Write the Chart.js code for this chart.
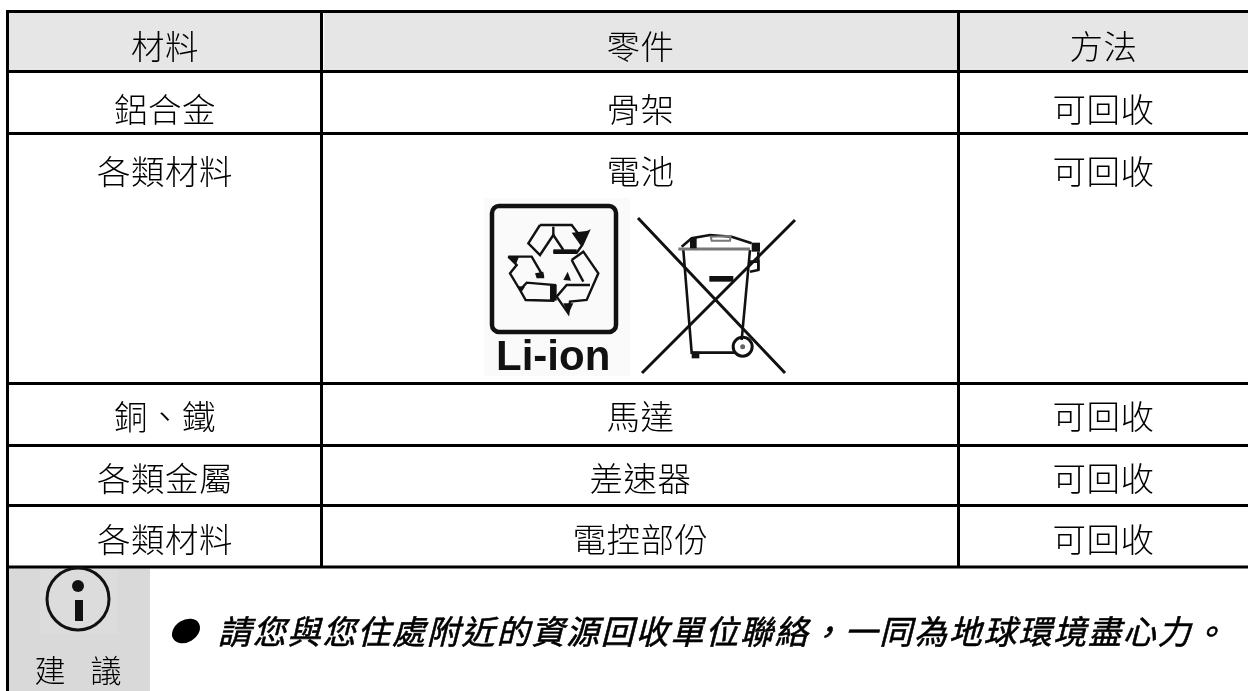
<!DOCTYPE html>
<html>
<head>
<meta charset="utf-8">
<script src="https://cdn.jsdelivr.net/npm/chart.js@4/dist/chart.umd.min.js"></script>
<style>
body { margin: 0; background: #fff; }
canvas { display: block; }
</style>
</head>
<body>
<canvas id="tableChart" width="1248" height="691"></canvas>
<script>
const headers = ['材料', '零件', '方法'];
const materials = ['鋁合金', '各類材料', '銅、鐵', '各類金屬', '各類材料'];
const parts = ['骨架', '電池', '馬達', '差速器', '電控部份'];
const methods = ['可回收', '可回收', '可回收', '可回收', '可回收'];
const adviceLabel = ['建', '議'];
const adviceText = '請您與您住處附近的資源回收單位聯絡，一同為地球環境盡心力。';
const batteryLabel = 'Li-ion';

// table layout, in the units of the x and y scales
const colEdges = [7.5, 321.5, 958.5, 1248];
const rowEdges = [11.5, 71.5, 133.5, 383.5, 445.5, 505.5, 567];
const textY = [46, 109, 171, 416, 478, 539];
const colX = [165, 640.5, 1103.5];

const CJK = '"Noto Sans CJK TC", "Noto Sans CJK JP", sans-serif';

function borderSet(points) {
	return {
		data: points,
		showLine: true,
		borderColor: '#000',
		borderWidth: 3,
		pointRadius: 0,
		borderCapStyle: 'butt',
		tension: 0,
		clip: false
	};
}

function tableBorders() {
	let sets = [];
	rowEdges.forEach((y) => {
		sets.push(borderSet([{x: colEdges[0] - 1.5, y: y}, {x: colEdges[3], y: y}]));
	});
	// left edge runs on through the advice row
	sets.push(borderSet([{x: colEdges[0], y: rowEdges[0]}, {x: colEdges[0], y: 691}]));
	sets.push(borderSet([{x: colEdges[1], y: rowEdges[0]}, {x: colEdges[1], y: rowEdges[6]}]));
	sets.push(borderSet([{x: colEdges[2], y: rowEdges[0]}, {x: colEdges[2], y: rowEdges[6]}]));
	return sets;
}

function trace(ctx, ox, oy, pts, close) {
	ctx.beginPath();
	pts.forEach((p, i) => {
		if (i == 0) ctx.moveTo(ox + p[0] / 3, oy + p[1] / 3); else ctx.lineTo(ox + p[0] / 3, oy + p[1] / 3);
	});
	if (close) ctx.closePath();
}

function drawRecycleIcon(ctx) {
	ctx.save();
	ctx.fillStyle = '#fafafa';
	ctx.fillRect(484, 198, 146, 178);
	ctx.filter = 'blur(0.7px)';
	ctx.strokeStyle = '#111';
	ctx.lineWidth = 4.5;
	ctx.beginPath();
	ctx.roundRect(492, 206, 124, 126, 7);
	ctx.stroke();

	const ox = 495, oy = 210;
	const lines = [
		[[135, 45], [230, 45], [255, 78], [280, 65], [262, 105], [245, 128], [175, 125]],
		[[135, 45], [100, 100], [135, 135], [175, 75], [205, 120]],
		[[175, 50], [175, 75]],
		[[40, 140], [110, 140], [145, 200]],
		[[40, 140], [65, 165], [45, 190], [75, 240], [92, 270], [175, 272], [180, 225], [95, 218], [75, 240]],
		[[230, 150], [265, 125], [310, 190], [275, 270], [225, 275], [220, 310], [185, 260], [215, 225], [285, 225]],
		[[230, 150], [265, 215]]
	];
	ctx.lineWidth = 2.4;
	lines.forEach((l) => {
		trace(ctx, ox, oy, l);
		ctx.stroke();
	});
	ctx.fillStyle = '#111';
	const blobs = [
		[[175, 118], [245, 118], [245, 132], [175, 132]],
		[[230, 68], [280, 62], [258, 108]],
		[[205, 210], [218, 185], [228, 212]],
		[[205, 280], [235, 280], [220, 312]],
		[[38, 138], [72, 140], [62, 165]],
		[[120, 190], [145, 185], [148, 205], [125, 205]],
		[[65, 228], [90, 230], [78, 248]],
		[[165, 225], [185, 225], [185, 272], [165, 272]]
	];
	blobs.forEach((b) => {
		trace(ctx, ox, oy, b, true);
		ctx.fill();
	});

	ctx.font = 'bold 42px "Liberation Sans", sans-serif';
	ctx.textAlign = 'left';
	ctx.textBaseline = 'alphabetic';
	ctx.fillText(batteryLabel, 496, 370);
	ctx.restore();
}

function drawBinIcon(ctx) {
	ctx.save();
	ctx.filter = 'blur(0.7px)';
	ctx.strokeStyle = '#111';
	ctx.fillStyle = '#111';
	ctx.lineWidth = 3;
	ctx.beginPath();
	ctx.moveTo(638, 218);
	ctx.lineTo(785, 373);
	ctx.moveTo(795, 220);
	ctx.lineTo(642, 373);
	ctx.stroke();

	const ox = 670, oy = 220;
	ctx.lineWidth = 2.6;
	trace(ctx, ox, oy, [[40, 90], [65, 398], [195, 398]]);
	ctx.stroke();
	trace(ctx, ox, oy, [[240, 90], [215, 360]]);
	ctx.stroke();
	trace(ctx, ox, oy, [[35, 80], [65, 55], [120, 45], [185, 50], [245, 70]]);
	ctx.stroke();
	trace(ctx, ox, oy, [[240, 125], [265, 125], [265, 150], [240, 155]]);
	ctx.stroke();
	trace(ctx, ox, oy, [[265, 95], [265, 150]]);
	ctx.stroke();

	ctx.strokeStyle = '#777';
	ctx.lineWidth = 3;
	trace(ctx, ox, oy, [[25, 87], [240, 87]]);
	ctx.stroke();
	ctx.lineWidth = 2;
	trace(ctx, ox, oy, [[122, 50], [182, 48], [180, 62], [125, 62]], true);
	ctx.stroke();

	const blocks = [
		[[60, 55], [80, 50], [80, 85], [60, 85]],
		[[245, 68], [270, 68], [270, 95], [245, 95]],
		[[118, 168], [190, 168], [190, 185], [118, 185]],
		[[65, 395], [88, 395], [88, 415], [65, 415]]
	];
	blocks.forEach((b) => {
		trace(ctx, ox, oy, b, true);
		ctx.fill();
	});

	ctx.strokeStyle = '#111';
	ctx.lineWidth = 3;
	ctx.beginPath();
	ctx.arc(ox + 218 / 3, oy + 380 / 3, 9.5, 0, Math.PI * 2);
	ctx.stroke();
	ctx.fillStyle = '#666';
	ctx.beginPath();
	ctx.arc(ox + 218 / 3, oy + 380 / 3, 2.5, 0, Math.PI * 2);
	ctx.fill();
	ctx.restore();
}

function drawInfoIcon(ctx) {
	ctx.save();
	ctx.fillStyle = '#dcdcdc';
	ctx.fillRect(40, 569, 78, 65);
	ctx.strokeStyle = '#111';
	ctx.fillStyle = '#111';
	ctx.lineWidth = 3;
	ctx.beginPath();
	ctx.arc(78, 599, 31, 0, Math.PI * 2);
	ctx.stroke();
	ctx.beginPath();
	ctx.arc(78, 586, 6, 0, Math.PI * 2);
	ctx.fill();
	ctx.fillRect(75, 600, 8, 21);
	ctx.restore();
}

const tablePlugin = {
	id: 'tablePlugin',
	beforeDatasetsDraw(chart) {
		const ctx = chart.ctx;
		const x = chart.scales.x;
		const y = chart.scales.y;
		ctx.save();
		// header and advice backgrounds
		ctx.fillStyle = '#e6e6e6';
		ctx.fillRect(x.getPixelForValue(9), y.getPixelForValue(13), x.getPixelForValue(1248) - x.getPixelForValue(9), y.getPixelForValue(70) - y.getPixelForValue(13));
		ctx.fillStyle = '#fff';
		ctx.fillRect(x.getPixelForValue(323), y.getPixelForValue(13), 1, 57);
		ctx.fillStyle = '#d9d9d9';
		ctx.fillRect(x.getPixelForValue(9), y.getPixelForValue(568), x.getPixelForValue(150) - x.getPixelForValue(9), y.getPixelForValue(691) - y.getPixelForValue(568));
		ctx.restore();
	},
	afterDatasetsDraw(chart) {
		const ctx = chart.ctx;
		const x = chart.scales.x;
		const y = chart.scales.y;
		ctx.save();
		ctx.fillStyle = '#000';
		ctx.textAlign = 'center';
		ctx.textBaseline = 'middle';
		ctx.font = '300 33.5px ' + CJK;
		ctx.letterSpacing = '0.5px';
		headers.forEach((h, i) => {
			ctx.fillText(h, x.getPixelForValue(colX[i]), y.getPixelForValue(textY[0]));
		});
		materials.forEach((m, i) => {
			ctx.fillText(m, x.getPixelForValue(colX[0]), y.getPixelForValue(textY[i + 1]));
			ctx.fillText(parts[i], x.getPixelForValue(colX[1]), y.getPixelForValue(textY[i + 1]));
			ctx.fillText(methods[i], x.getPixelForValue(colX[2]), y.getPixelForValue(textY[i + 1]));
		});
		ctx.font = '300 31px ' + CJK;
		ctx.letterSpacing = '0px';
		ctx.fillText(adviceLabel[0], x.getPixelForValue(50), y.getPixelForValue(670));
		ctx.fillText(adviceLabel[1], x.getPixelForValue(106), y.getPixelForValue(670));

		ctx.fillStyle = '#000';
		ctx.strokeStyle = '#000';
		ctx.lineWidth = 0.6;
		ctx.textAlign = 'left';
		ctx.font = 'italic 33px ' + CJK;
		ctx.letterSpacing = '1.8px';
		ctx.fillText(adviceText, x.getPixelForValue(218), y.getPixelForValue(631));
		ctx.strokeText(adviceText, x.getPixelForValue(218), y.getPixelForValue(631));
		ctx.restore();

		// bullet, leaning with the text
		ctx.save();
		ctx.fillStyle = '#000';
		ctx.beginPath();
		ctx.ellipse(x.getPixelForValue(186), y.getPixelForValue(631), 15, 11, -0.55, 0, Math.PI * 2);
		ctx.fill();
		ctx.restore();

		drawRecycleIcon(ctx);
		drawBinIcon(ctx);
		drawInfoIcon(ctx);
	}
};

new Chart(document.getElementById('tableChart'), {
	type: 'scatter',
	data: { datasets: tableBorders() },
	plugins: [tablePlugin],
	options: {
		responsive: false,
		animation: false,
		layout: { padding: 0 },
		plugins: { legend: { display: false }, tooltip: { enabled: false } },
		scales: {
			x: { type: 'linear', min: 0, max: 1248, display: false },
			y: { type: 'linear', min: 0, max: 691, reverse: true, display: false }
		}
	}
});
</script>
</body>
</html>
